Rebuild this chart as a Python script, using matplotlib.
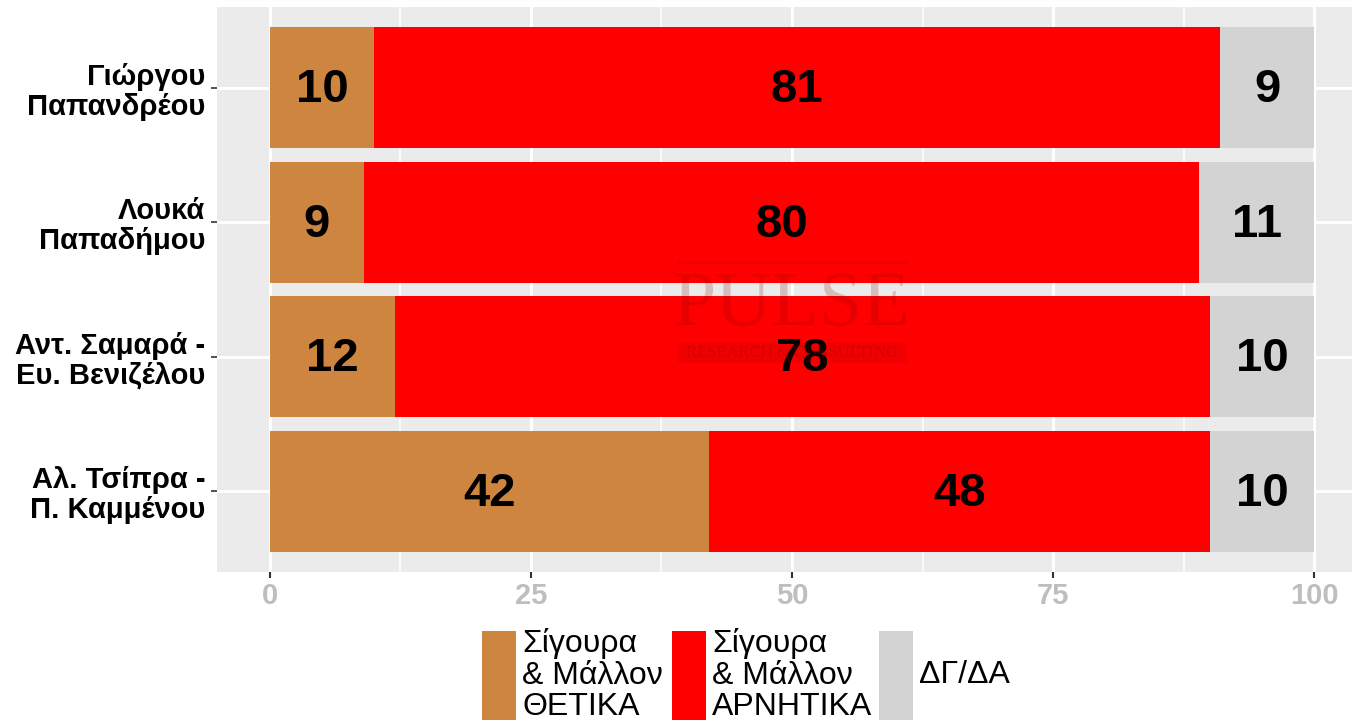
"""
Stacked horizontal bars - evaluation of candidates (ggplot-like look)
"""
import matplotlib.pyplot as plt
from matplotlib.patches import Rectangle
import numpy as np

plt.rcParams['font.family'] = ['Liberation Sans', 'DejaVu Sans']

# Data
candidates = ['Γιώργου\nΠαπανδρέου', 'Λουκά\nΠαπαδήμου',
              'Αντ. Σαμαρά -\nΕυ. Βενιζέλου', 'Αλ. Τσίπρα -\nΠ. Καμμένου']
positive = [10, 9, 12, 42]
negative = [81, 80, 78, 48]
dk_na = [9, 11, 10, 10]

series_labels = ['Σίγουρα\n& Μάλλον\nΘΕΤΙΚΑ', 'Σίγουρα\n& Μάλλον\nΑΡΝΗΤΙΚΑ', 'ΔΓ/ΔΑ']
series_colors = ['#CD853F', '#FF0000', '#D3D3D3']
xticks = [0, 25, 50, 75, 100]

W, H = 1352, 725
fig = plt.figure(figsize=(W / 100, H / 100), dpi=100)
ax = fig.add_axes([217 / W, 1 - 572 / H, 1 - 217 / W, (572 - 7) / H])
ax.set_facecolor('#EBEBEB')
for s in ax.spines.values():
    s.set_visible(False)

y = np.arange(len(candidates))
left = np.zeros(len(candidates))
for vals, col in zip([positive, negative, dk_na], series_colors):
    vals = np.array(vals, dtype=float)
    ax.barh(y, vals, left=left, height=0.9, color=col, zorder=2)
    for yi, l, v in zip(y, left, vals):
        ax.text(l + v / 2, yi + 0.02, f'{int(v)}', ha='center', va='center',
                fontsize=34, fontweight='bold', color='black', zorder=3)
    left += vals

ax.set_xlim(-5.05, 103.6)
ax.set_ylim(len(candidates) - 0.4, -0.6)

# grid
ax.set_xticks(xticks)
ax.set_xticks([12.5, 37.5, 62.5, 87.5], minor=True)
ax.set_yticks(y)
ax.set_yticklabels(candidates)
ax.grid(which='major', color='white', linewidth=2.2, zorder=0)
ax.grid(which='minor', axis='x', color='white', linewidth=1.1, zorder=0)
ax.set_axisbelow(True)

ax.tick_params(axis='x', which='major', length=4.5, width=1.5, color='#333333',
               labelsize=21, labelcolor='#BEBEBE', pad=3)
ax.tick_params(axis='x', which='minor', length=0)
ax.tick_params(axis='y', length=4.5, width=1.2, color='#333333',
               labelsize=21, pad=4)
for lbl in ax.get_xticklabels():
    lbl.set_fontweight('bold')
for lbl in ax.get_yticklabels():
    lbl.set_fontweight('bold')
    lbl.set_multialignment('right')
    lbl.set_linespacing(1.1)

# legend (drawn by hand to get tall keys)
key_x = [482, 672, 879]
for kx, lab, col in zip(key_x, series_labels, series_colors):
    fig.add_artist(Rectangle((kx / W, 1 - 720 / H), 34 / W, 89 / H,
                             transform=fig.transFigure, facecolor=col,
                             edgecolor='none'))
    fig.text((kx + 40) / W, 1 - 675 / H, lab, ha='left', va='center',
             fontsize=23, linespacing=1.05, color='black')

# faint watermark
wm = '#8B0000'
fig.add_artist(Rectangle((678 / W, 1 - 264 / H), 229 / W, 3 / H,
                         transform=fig.transFigure, facecolor=wm,
                         edgecolor='none', alpha=0.15, zorder=5))
fig.text(792 / W, 1 - 306 / H, 'PULSE', ha='center', va='center',
         fontsize=56, family='Liberation Serif', color=wm, alpha=0.2,
         zorder=5)
fig.add_artist(Rectangle((678 / W, 1 - 363 / H), 229 / W, 20 / H,
                         transform=fig.transFigure, facecolor=wm,
                         edgecolor='none', alpha=0.12, zorder=5))
fig.text(792 / W, 1 - 353 / H, 'RESEARCH & CONSULTING', ha='center',
         va='center', fontsize=12, family='Liberation Serif', color=wm,
         alpha=0.25, zorder=5)

fig.savefig('out.png', dpi=100, facecolor='white')
